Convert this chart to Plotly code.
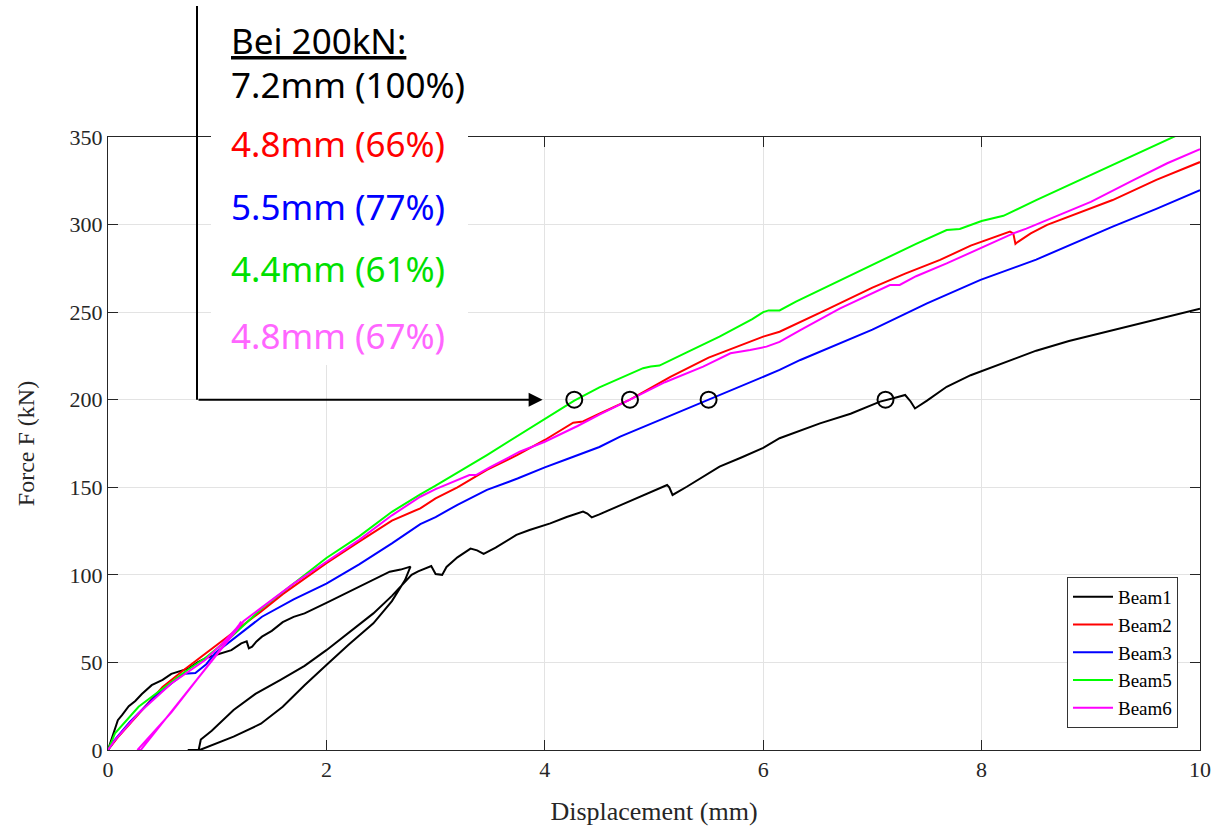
import plotly.graph_objects as go

# ---------------- data ----------------
beam1_x = [0, 0.03, 0.06, 0.09, 0.13, 0.19, 0.25, 0.31, 0.4, 0.5, 0.58, 0.66, 0.74, 0.82, 0.89, 0.97,
           1.04, 1.13, 1.22, 1.27, 1.29, 1.32, 1.36, 1.41, 1.5, 1.6, 1.7, 1.8, 2.0, 2.2, 2.37, 2.5,
           2.58, 2.68, 2.77,
           2.72, 2.6, 2.43, 2.2, 2.0, 1.8, 1.6, 1.4, 1.15, 1.0, 0.9, 0.84, 0.73,
           0.8, 0.83, 0.85, 0.95, 1.15, 1.35, 1.58, 1.8, 2.0, 2.2, 2.43, 2.6, 2.78,
           2.84, 2.9, 2.96, 3.0, 3.06, 3.1, 3.2, 3.32, 3.38, 3.44, 3.55, 3.74, 3.86, 4.05, 4.2,
           4.35, 4.39, 4.43, 4.5, 4.7, 4.9, 5.05, 5.12, 5.14, 5.17, 5.3, 5.45, 5.6, 5.8, 6.0,
           6.15, 6.52, 6.8, 7.07, 7.2, 7.3, 7.35, 7.39, 7.5, 7.68, 7.9, 8.23, 8.5, 8.8, 9.2,
           9.6, 10.0]
beam1_y = [0, 6, 11, 17, 20, 25, 28, 32, 37, 40, 43.5, 45, 46.6, 50, 52.3, 54,
           55.2, 57, 60.9, 62, 58, 59, 62, 64.7, 68, 73, 76, 78, 84, 90, 95.2, 99,
           101.8, 103, 104.7,
           97, 85, 72.3, 60, 48.5, 37, 24.7, 15, 7.6, 4, 1.5, 0, 0,
           0, 0, 6, 11, 22.8, 32, 40, 48, 57, 67, 78, 88, 100,
           102, 103.5, 105, 100.5, 100, 104.5, 110, 115, 114, 112, 115.5, 122.8, 125.6, 129.4, 133,
           136.1, 135, 132.8, 134.5, 140, 145.5, 149.5, 151.3, 150, 145.6, 150.3, 156, 161.8, 167, 172.5,
           178, 186.5, 192, 198.9, 201, 202.7, 199, 195, 199.5, 207.4, 214, 221.7, 228, 233.5, 239.8,
           246, 252]

beam2_x = [0, 0.1, 0.3, 0.5, 0.7, 0.89, 1.0, 1.2, 1.4, 1.6, 1.8, 2.0, 2.3, 2.6, 2.86, 3.0, 3.2,
           3.47, 3.75, 4.0, 4.26, 4.35, 4.5, 4.78, 5.15, 5.5, 6.0, 6.15, 6.6, 7.0, 7.3, 7.62, 7.9,
           8.1, 8.26, 8.29, 8.31, 8.33, 8.45, 8.6, 8.9, 9.2, 9.6, 10.0]
beam2_y = [0, 8, 22, 36, 46, 55, 60, 70, 79, 89, 98, 106.7, 119, 131, 138, 143.7, 150,
           159.9, 168.5, 177, 186.9, 187.6, 192, 200, 213, 224, 236, 238.8, 252, 264, 272, 279.8, 288,
           292.5, 296, 295, 289, 290, 295, 299.8, 307, 314, 325.5, 335.7]

beam3_x = [0, 0.06, 0.2, 0.43, 0.6, 0.7, 0.8, 0.9, 0.98, 1.2, 1.41, 1.7, 2.0, 2.3, 2.6, 2.86, 3.0,
           3.2, 3.47, 3.75, 4.0, 4.2, 4.5, 4.69, 5.0, 5.5, 6.0, 6.15, 6.34, 7.0, 7.5, 7.99, 8.5,
           9.2, 9.6, 10.0]
beam3_y = [0, 5.7, 16, 30.4, 39, 43.5, 44, 49, 55.2, 66, 76.1, 86, 95, 106, 118, 129, 133,
           140, 148.5, 155, 161.4, 166, 173, 178.9, 187, 200, 213, 217, 222.7, 240, 255, 268.4, 280,
           298.8, 309, 319.7]

beam5_x = [0, 0.064, 0.28, 0.52, 0.705, 0.89, 1.13, 1.41, 1.7, 2.0, 2.3, 2.6, 2.86, 3.0, 3.47,
           4.0, 4.27, 4.5, 4.9, 4.97, 5.05, 5.3, 5.6, 5.9, 6.0, 6.05, 6.15, 6.3, 6.7, 7.0, 7.4,
           7.68, 7.8, 8.0, 8.11, 8.2, 8.5, 8.9, 9.3, 9.75, 10.0]
beam5_y = [0, 9.5, 24.7, 36, 44.7, 52.5, 64.7, 80.9, 95, 109.6, 122, 136, 146, 151, 168.4,
           189, 199.5, 207, 218, 219, 219.5, 227, 236, 246, 250, 251, 251, 256, 268, 277, 289,
           296.9, 297.5, 302, 303.6, 305, 314, 325.4, 337, 350, 357]

beam6_x = [0, 0.064, 0.28, 0.58, 0.89, 1.05, 1.19, 1.22,
           1.2, 0.9, 0.58, 0.27,
           0.3, 0.6, 0.92, 1.24,
           1.4, 1.7, 2.0, 2.3, 2.6, 2.86, 3.0, 3.31, 3.37, 3.5, 3.77, 4.0, 4.3, 4.5, 4.78, 5.1,
           5.45, 5.7, 5.88, 6.03, 6.15, 6.34, 6.7, 7.16, 7.25, 7.4, 7.68, 8.0, 8.29, 8.41, 8.7,
           9.0, 9.39, 9.7, 10.0]
beam6_y = [0, 5.7, 21, 38, 51.4, 61, 70.4, 73.3,
           71.5, 47, 21.5, 0,
           0, 23.5, 48.5, 73.5,
           81, 95, 107.5, 120, 134, 144.6, 149, 157, 157, 161.5, 170.3, 176, 185, 191.5, 200, 210,
           218.9, 226.5, 228.4, 230.3, 233, 239.8, 252, 265.5, 265.5, 270.5, 277.8, 287, 295, 297.7, 305,
           313, 325.4, 335, 343]

series_names = ["Beam1", "Beam2", "Beam3", "Beam5", "Beam6"]
series_x = [beam1_x, beam2_x, beam3_x, beam5_x, beam6_x]
series_y = [beam1_y, beam2_y, beam3_y, beam5_y, beam6_y]
series_colors = ["#000000", "#FF0000", "#0000FF", "#00FF00", "#FF00FF"]

marker_x = [4.27, 4.78, 5.5, 7.12]
marker_y = [200, 200, 200, 200]

note_title = "Bei 200kN:"
note_lines = ["7.2mm (100%)", "4.8mm (66%)", "5.5mm (77%)", "4.4mm (61%)", "4.8mm (67%)"]
note_colors = ["#000000", "#FF0000", "#0000FF", "#00E000", "#FF66FF"]

x_ticks = [0, 2, 4, 6, 8, 10]
y_ticks = [0, 50, 100, 150, 200, 250, 300, 350]

# ---------------- figure ----------------
W, H = 1215, 831
ML, MR, MT, MB = 108, 15, 137, 81
PW, PH = W - ML - MR, H - MT - MB


def px_to_paper_x(px):
    return (px - ML) / PW


def py_to_paper_y(py):
    return (H - MB - py) / PH


fig = go.Figure()
for name, xs, ys, col in zip(series_names, series_x, series_y, series_colors):
    fig.add_trace(go.Scatter(x=xs, y=ys, mode="lines", name=name,
                             line=dict(color=col, width=2)))

fig.add_trace(go.Scatter(x=marker_x, y=marker_y, mode="markers", showlegend=False,
                         marker=dict(symbol="circle-open", size=16, color="black",
                                     line=dict(width=2, color="black"))))

axis_font = dict(family="Liberation Serif, Times New Roman, serif", size=22, color="#262626")

fig.update_xaxes(range=[0, 10], tickvals=x_ticks, ticks="inside", ticklen=10, tickcolor="#262626",
                 showline=True, linecolor="#262626", linewidth=1, mirror="ticks",
                 showgrid=True, gridcolor="#E3E3E3", gridwidth=1, zeroline=False,
                 tickfont=axis_font, automargin=False,
                 title=dict(text="Displacement (mm)", font=dict(axis_font, size=26), standoff=20))
fig.update_yaxes(range=[0, 350], tickvals=y_ticks, ticks="inside", ticklen=10, tickcolor="#262626",
                 showline=True, linecolor="#262626", linewidth=1, mirror="ticks",
                 showgrid=True, gridcolor="#E3E3E3", gridwidth=1, zeroline=False,
                 tickfont=axis_font, automargin=False,
                 title=dict(text="Force F (kN)", font=dict(axis_font, size=24), standoff=28))

# white box behind annotation text
fig.add_shape(type="rect", xref="paper", yref="paper",
              x0=px_to_paper_x(211), x1=px_to_paper_x(468),
              y0=py_to_paper_y(365), y1=py_to_paper_y(0),
              fillcolor="white", line=dict(width=0), layer="above")
# vertical leader line
fig.add_shape(type="line", xref="paper", yref="paper",
              x0=px_to_paper_x(197), x1=px_to_paper_x(197),
              y0=py_to_paper_y(6), y1=200 / 350,
              line=dict(color="black", width=2), layer="above")
# horizontal arrow to the 200 kN level
fig.add_annotation(x=3.98, y=200, xref="x", yref="y", ax=197 - (ML + 3.98 * PW / 10), ay=0,
                   axref="pixel", ayref="pixel", text="", showarrow=True,
                   arrowhead=2, arrowsize=1.4, arrowwidth=2, arrowcolor="black", standoff=0)

text_font = "Noto Sans, Open Sans, sans-serif"
fig.add_annotation(x=px_to_paper_x(229), y=py_to_paper_y(40), xref="paper", yref="paper",
                   text="<u>" + note_title + "</u>", showarrow=False, xanchor="left", yanchor="middle",
                   font=dict(family=text_font, size=35, color="#000000"))
note_py = [84, 143, 206, 268, 335]
for txt, col, py in zip(note_lines, note_colors, note_py):
    fig.add_annotation(x=px_to_paper_x(229), y=py_to_paper_y(py), xref="paper", yref="paper",
                       text=txt, showarrow=False, xanchor="left", yanchor="middle",
                       font=dict(family=text_font, size=35, color=col))

fig.update_layout(
    width=W, height=H, autosize=False,
    margin=dict(l=ML, r=MR, t=MT, b=MB, pad=0, autoexpand=False),
    paper_bgcolor="white", plot_bgcolor="white",
    showlegend=True,
    legend=dict(x=px_to_paper_x(1178), y=py_to_paper_y(728), xanchor="right", yanchor="bottom",
                bgcolor="white", bordercolor="#333333", borderwidth=1,
                font=dict(family="Liberation Serif, Times New Roman, serif", size=19, color="#000000"),
                tracegroupgap=0, itemwidth=40),
)

fig.write_html("out.html", config={"displayModeBar": False},
               post_script="document.body.style.margin='0px';document.body.style.overflow='hidden';")
